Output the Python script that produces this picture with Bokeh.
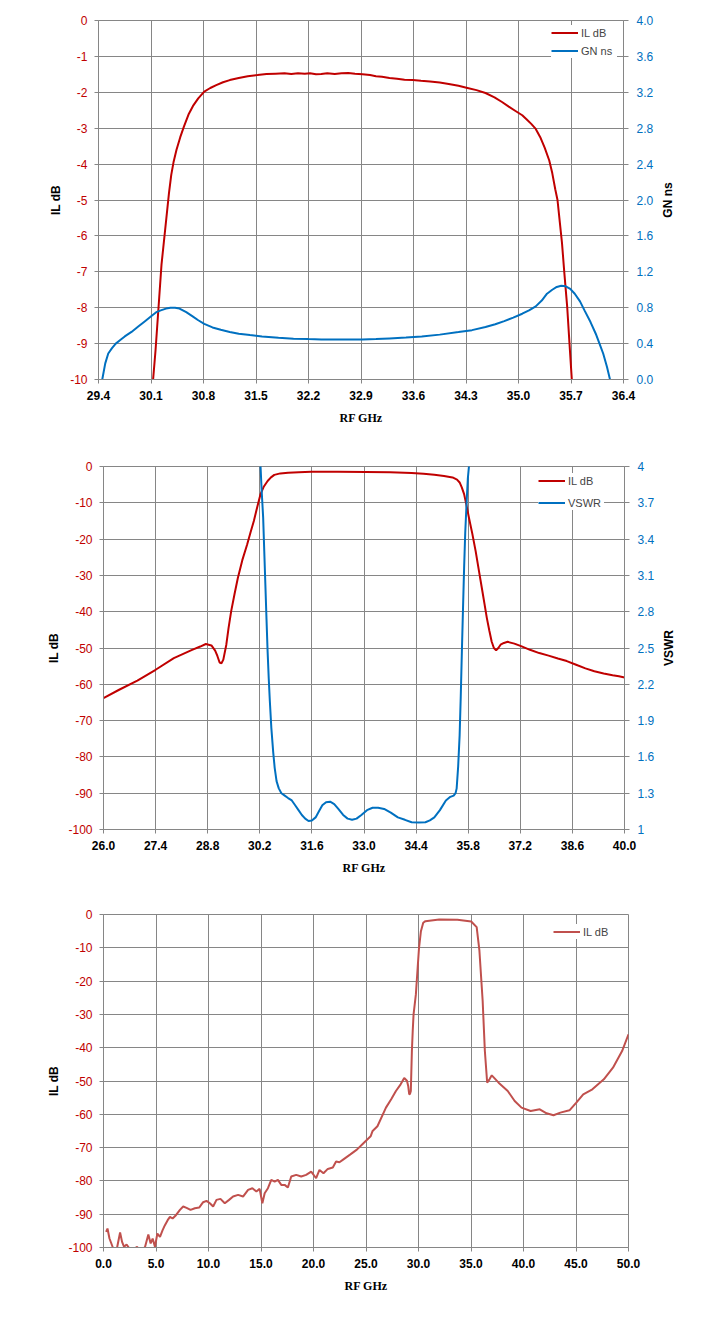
from math import pi
from bokeh.plotting import figure
from bokeh.models import (Range1d, LinearAxis, FixedTicker, NumeralTickFormatter,
                          Legend, LegendItem)
from bokeh.core.properties import value
from bokeh.layouts import column, row
from bokeh.embed import file_html
from bokeh.resources import INLINE

RED = "#C00000"
BLUE = "#0070C0"
RED3 = "#C0504D"
GRID = "#868686"

# ---- chart 1: passband IL dB + group delay (GN ns)
il1_f = [30.12, 30.16, 30.20, 30.24, 30.28, 30.31, 30.34, 30.37, 30.40, 30.44,
         30.49, 30.54, 30.60, 30.66, 30.73, 30.81, 30.89, 30.97, 31.06, 31.15,
         31.27, 31.39, 31.52, 31.64, 31.76, 31.88, 31.97, 32.06, 32.15, 32.22,
         32.30, 32.37, 32.45, 32.55, 32.64, 32.73, 32.82, 32.92, 33.02, 33.10,
         33.18, 33.28, 33.38, 33.48, 33.59, 33.70, 33.82, 33.95, 34.07, 34.20,
         34.32, 34.44, 34.56, 34.68, 34.78, 34.87, 34.96, 35.05, 35.11, 35.17,
         35.23, 35.29, 35.35, 35.41, 35.45, 35.49, 35.52, 35.55, 35.58, 35.61,
         35.65, 35.68, 35.72]
il1_db = [-10.2, -9.2, -8.0, -6.8, -6.0, -5.4, -4.8, -4.3, -3.95, -3.6,
          -3.25, -2.95, -2.62, -2.38, -2.17, -1.98, -1.88, -1.80, -1.72, -1.66,
          -1.60, -1.55, -1.52, -1.49, -1.48, -1.47, -1.49, -1.47, -1.48, -1.47,
          -1.50, -1.49, -1.47, -1.49, -1.47, -1.46, -1.48, -1.50, -1.52, -1.55,
          -1.57, -1.60, -1.62, -1.65, -1.66, -1.68, -1.70, -1.73, -1.77, -1.82,
          -1.88, -1.94, -2.02, -2.14, -2.27, -2.40, -2.52, -2.64, -2.76, -2.88,
          -3.02, -3.25, -3.55, -3.90, -4.25, -4.70, -5.00, -5.60, -6.20, -7.00,
          -8.00, -9.00, -10.3]
gn1_f = [29.45, 29.49, 29.53, 29.58, 29.63, 29.69, 29.75, 29.84, 29.93, 30.02,
         30.11, 30.17, 30.23, 30.30, 30.36, 30.42, 30.48, 30.57, 30.66, 30.73,
         30.81, 30.92, 31.03, 31.15, 31.27, 31.42, 31.58, 31.80, 32.00, 32.20,
         32.37, 32.65, 32.92, 33.10, 33.28, 33.50, 33.71, 33.95, 34.20, 34.38,
         34.56, 34.69, 34.81, 34.93, 35.05, 35.14, 35.23, 35.31, 35.38, 35.45,
         35.51, 35.57, 35.63, 35.69, 35.75, 35.82, 35.88, 35.96, 36.03, 36.08,
         36.13, 36.18, 36.22]
gn1_ns = [0.0, 0.18, 0.29, 0.35, 0.40, 0.44, 0.48, 0.53, 0.59, 0.65,
          0.71, 0.75, 0.77, 0.79, 0.80, 0.80, 0.79, 0.75, 0.70, 0.66,
          0.62, 0.58, 0.555, 0.53, 0.51, 0.495, 0.48, 0.465, 0.455, 0.45,
          0.447, 0.445, 0.447, 0.45, 0.458, 0.468, 0.48, 0.50, 0.528, 0.55,
          0.584, 0.615, 0.651, 0.69, 0.733, 0.77, 0.815, 0.88, 0.956, 1.0,
          1.031, 1.045, 1.038, 1.01, 0.956, 0.87, 0.77, 0.64, 0.51, 0.40,
          0.287, 0.14, 0.0]
x1_ticks = [29.4, 30.1, 30.8, 31.5, 32.2, 32.9, 33.6, 34.3, 35.0, 35.7, 36.4]
y1_ticks = [0, -1, -2, -3, -4, -5, -6, -7, -8, -9, -10]
gn1_ticks = [0.0, 0.4, 0.8, 1.2, 1.6, 2.0, 2.4, 2.8, 3.2, 3.6, 4.0]

# ---- chart 2: IL dB + VSWR, 26-40 GHz
il2_f = [26.0, 26.42, 26.91, 27.40, 27.89, 28.38, 28.60, 28.75, 28.90, 29.00,
         29.06, 29.12, 29.17, 29.22, 29.30, 29.36, 29.43, 29.52, 29.61, 29.73,
         29.86, 29.95, 30.04, 30.13, 30.22, 30.31, 30.41, 30.50, 30.59, 30.75,
         30.96, 31.25, 31.58, 32.30, 33.05, 33.70, 34.28, 34.60, 34.89, 35.15,
         35.38, 35.50, 35.57, 35.63, 35.69, 35.75, 35.82, 35.91, 36.00, 36.09,
         36.18, 36.24, 36.30, 36.37, 36.43, 36.49, 36.55, 36.61, 36.67, 36.76,
         36.86, 37.04, 37.22, 37.46, 37.71, 37.96, 38.21, 38.45, 38.70, 38.95,
         39.19, 39.44, 39.68, 39.85, 40.0]
il2_db = [-63.8, -61.5, -59.0, -56.0, -52.8, -50.5, -49.6, -48.9, -49.3, -50.7,
          -52.2, -54.0, -54.2, -53.2, -49.1, -44.5, -39.9, -35.2, -30.7, -25.8,
          -21.5, -18.2, -15.0, -11.2, -7.6, -5.5, -4.0, -3.0, -2.3, -1.9,
          -1.7, -1.55, -1.45, -1.45, -1.5, -1.6, -1.8, -2.0, -2.3, -2.6,
          -3.0, -3.6, -4.4, -5.8, -7.6, -10.5, -14.1, -18.5, -23.3, -28.8,
          -34.3, -38.0, -41.7, -45.3, -48.2, -50.0, -50.6, -50.0, -49.1, -48.6,
          -48.3, -48.8, -49.5, -50.5, -51.4, -52.1, -52.9, -53.6, -54.6, -55.6,
          -56.4, -57.0, -57.5, -57.8, -58.1]
vswr2_f = [30.19, 30.22, 30.25, 30.29, 30.32, 30.35, 30.38, 30.41, 30.44, 30.47,
           30.51, 30.56, 30.60, 30.65, 30.71, 30.78, 30.87, 30.96, 31.06, 31.15,
           31.24, 31.33, 31.42, 31.51, 31.60, 31.70, 31.79, 31.88, 31.98, 32.09,
           32.20, 32.31, 32.44, 32.56, 32.68, 32.80, 32.93, 33.08, 33.23, 33.38,
           33.54, 33.72, 33.91, 34.10, 34.28, 34.47, 34.65, 34.77, 34.89, 35.04,
           35.20, 35.32, 35.41, 35.46, 35.49, 35.53, 35.57, 35.60, 35.63, 35.66,
           35.69, 35.72, 35.76, 35.79, 35.82, 35.85]
vswr2 = [4.30, 4.00, 3.80, 3.58, 3.30, 3.02, 2.74, 2.47, 2.25, 2.06,
         1.84, 1.64, 1.51, 1.40, 1.34, 1.30, 1.28, 1.26, 1.24, 1.20,
         1.16, 1.12, 1.09, 1.07, 1.075, 1.10, 1.15, 1.20, 1.225, 1.23,
         1.21, 1.17, 1.12, 1.09, 1.08, 1.09, 1.12, 1.16, 1.18, 1.18,
         1.17, 1.14, 1.10, 1.08, 1.06, 1.057, 1.06, 1.075, 1.10, 1.16,
         1.24, 1.27, 1.28, 1.30, 1.34, 1.52, 1.78, 2.10, 2.47, 2.82,
         3.16, 3.45, 3.72, 3.90, 4.00, 4.30]
x2_ticks = [26.0, 27.4, 28.8, 30.2, 31.6, 33.0, 34.4, 35.8, 37.2, 38.6, 40.0]
y2_ticks = [0, -10, -20, -30, -40, -50, -60, -70, -80, -90, -100]
vswr2_ticks = [1, 1.3, 1.6, 1.9, 2.2, 2.5, 2.8, 3.1, 3.4, 3.7, 4]

# ---- chart 3: wideband IL dB, 0-50 GHz
il3_f = [0.25, 0.38, 0.57, 0.89, 1.20, 1.58, 1.77, 1.96, 2.20, 2.47,
         2.85, 3.16, 3.64, 3.96, 4.27, 4.49, 4.68, 4.90, 5.13, 5.38,
         5.63, 5.85, 6.11, 6.33, 6.58, 6.90, 7.28, 7.59, 7.91, 8.29,
         8.70, 9.11, 9.49, 9.81, 10.13, 10.44, 10.76, 11.14, 11.55, 11.96,
         12.34, 12.82, 13.29, 13.77, 14.18, 14.56, 14.87, 15.13, 15.35, 15.66,
         15.98, 16.30, 16.61, 16.93, 17.25, 17.56, 17.88, 18.35, 18.83, 19.30,
         19.78, 20.25, 20.57, 20.95, 21.36, 21.84, 22.15, 22.47, 22.82, 23.48,
         24.13, 24.78, 25.44, 25.63, 26.09, 26.90, 27.40, 27.85, 28.30, 28.64,
         28.90, 29.02, 29.11, 29.18, 29.27, 29.37, 29.45, 29.53, 29.75, 29.92,
         30.05, 30.23, 30.45, 30.66, 31.97, 33.71, 35.02, 35.54, 35.80, 36.11,
         36.32, 36.54, 36.76, 36.98, 37.63, 38.50, 39.16, 39.81, 40.68, 41.55,
         42.20, 42.86, 43.51, 44.38, 45.03, 45.69, 46.56, 47.65, 48.52, 49.39,
         50.0]
il3_db = [-95.3, -94.3, -97.3, -100.0, -101.5, -95.5, -98.3, -99.8, -99.1, -100.3,
          -101.0, -99.8, -101.0, -99.8, -96.1, -98.8, -97.3, -99.8, -95.8, -96.8,
          -94.8, -93.3, -91.8, -90.8, -91.3, -90.3, -88.7, -87.7, -88.1, -88.7,
          -88.2, -88.0, -86.4, -86.0, -86.7, -87.7, -85.7, -85.4, -86.7, -85.7,
          -84.7, -84.2, -84.7, -82.7, -82.2, -83.2, -82.4, -86.7, -83.7, -82.2,
          -79.7, -80.2, -79.7, -81.2, -81.2, -82.0, -78.7, -78.2, -78.7, -78.2,
          -77.2, -79.2, -76.7, -77.7, -76.4, -76.0, -74.2, -74.4, -73.6, -72.1,
          -70.6, -68.6, -66.6, -65.0, -63.6, -58.0, -55.5, -53.0, -51.0, -49.1,
          -49.9, -51.5, -53.9, -54.0, -53.0, -41.0, -35.0, -30.0, -24.0, -16.0,
          -10.0, -5.0, -2.5, -2.0, -1.5, -1.6, -2.1, -3.8, -10.8, -25.9,
          -41.0, -50.5, -49.5, -48.3, -50.5, -53.0, -56.0, -58.0, -59.0, -58.5,
          -59.7, -60.3, -59.5, -58.8, -56.5, -54.0, -52.5, -49.5, -46.0, -41.0,
          -36.0]
x3_ticks = [0.0, 5.0, 10.0, 15.0, 20.0, 25.0, 30.0, 35.0, 40.0, 45.0, 50.0]
y3_ticks = [0, -10, -20, -30, -40, -50, -60, -70, -80, -90, -100]


def style_axis(ax, color, bold=False):
    ax.axis_line_color = GRID
    ax.major_tick_line_color = GRID
    ax.major_tick_in = 0
    ax.major_tick_out = 4
    ax.minor_tick_line_color = None
    ax.major_label_text_color = color
    ax.major_label_text_font = "Liberation Sans"
    ax.major_label_text_font_size = "12px"
    ax.major_label_text_font_style = "bold" if bold else "normal"
    ax.major_label_standoff = 7
    ax.axis_label_text_font = "Liberation Sans"
    ax.axis_label_text_font_style = "bold"
    ax.axis_label_text_font_size = "12px"
    ax.axis_label_text_color = "black"


def base_fig(x_ticks, y_ticks, frame_w, frame_h, left, top, bottom, right):
    p = figure(frame_width=frame_w, frame_height=frame_h,
               x_range=Range1d(x_ticks[0], x_ticks[-1]),
               y_range=Range1d(y_ticks[-1], y_ticks[0]),
               output_backend="svg", toolbar_location=None,
               min_border_left=left, min_border_right=right,
               min_border_top=top, min_border_bottom=bottom,
               x_axis_label="RF GHz", y_axis_label="IL dB")
    p.outline_line_color = GRID
    p.background_fill_color = "white"
    p.border_fill_color = "white"
    p.xaxis.ticker = FixedTicker(ticks=x_ticks)
    p.yaxis.ticker = FixedTicker(ticks=y_ticks)
    p.xaxis.formatter = NumeralTickFormatter(format="0.0")
    p.yaxis.formatter = NumeralTickFormatter(format="0")
    style_axis(p.xaxis[0], "black", bold=True)
    style_axis(p.yaxis[0], RED)
    p.xaxis.axis_label_text_font = "Liberation Serif"
    p.xaxis.axis_label_standoff = 8
    p.yaxis.axis_label_standoff = 4
    for g in (p.xgrid, p.ygrid):
        g.grid_line_color = GRID
        g.grid_line_width = 1
    return p


def add_legend(p, items, loc, spacing):
    leg = Legend(items=items, location=loc, padding=6, spacing=spacing,
                 margin=0, glyph_width=27, glyph_height=15, label_height=15,
                 label_width=36, label_standoff=3,
                 label_text_font="Liberation Sans", label_text_font_size="11px",
                 border_line_color=None, background_fill_color="white",
                 background_fill_alpha=1.0)
    p.add_layout(leg)


def right_axis(p, name, rng, ticks, fmt):
    p.extra_y_ranges = {name: rng}
    ax = LinearAxis(y_range_name=name, ticker=FixedTicker(ticks=ticks),
                    formatter=NumeralTickFormatter(format=fmt))
    style_axis(ax, BLUE)
    ax.major_tick_out = 5
    ax.major_label_standoff = 8
    p.add_layout(ax, "right")


def side_title(text, frame_h, top, bottom):
    # narrow strip holding the right-hand axis title, read bottom-to-top
    s = figure(frame_width=20, frame_height=frame_h, x_range=Range1d(0, 1),
               y_range=Range1d(0, 1), output_backend="svg", toolbar_location=None,
               min_border_left=1, min_border_right=0,
               min_border_top=top, min_border_bottom=bottom)
    s.axis.visible = False
    s.grid.visible = False
    s.outline_line_color = None
    s.border_fill_color = "white"
    s.text(x=[0.5], y=[0.5], text=[text], angle=pi / 2, text_align="center",
           text_baseline="middle", text_font=value("Liberation Sans"),
           text_font_style="bold", text_font_size="12px", text_color="black")
    return s


# chart 1
p1 = base_fig(x1_ticks, y1_ticks, 525, 359, 98, 20, 55, 30)
right_axis(p1, "gn", Range1d(gn1_ticks[0], gn1_ticks[-1]), gn1_ticks, "0.0")
r1a = p1.line(il1_f, il1_db, line_color=RED, line_width=2)
r1b = p1.line(gn1_f, gn1_ns, line_color=BLUE, line_width=2, y_range_name="gn")
add_legend(p1, [LegendItem(label="IL dB", renderers=[r1a]),
                LegendItem(label="GN ns", renderers=[r1b])], (453, 321), 3)
t1 = side_title("GN ns", 359, 20, 55)

# chart 2
p2 = base_fig(x2_ticks, y2_ticks, 521, 363, 103, 32, 55, 30)
right_axis(p2, "vswr", Range1d(vswr2_ticks[0], vswr2_ticks[-1]), vswr2_ticks, "0.[0]")
r2a = p2.line(il2_f, il2_db, line_color=RED, line_width=2)
r2b = p2.line(vswr2_f, vswr2, line_color=BLUE, line_width=2, y_range_name="vswr")
add_legend(p2, [LegendItem(label="IL dB", renderers=[r2a]),
                LegendItem(label="VSWR", renderers=[r2b])], (435, 319), 7)
t2 = side_title("VSWR", 363, 32, 55)

# chart 3
p3 = base_fig(x3_ticks, y3_ticks, 525, 333, 103, 30, 60, 70)
r3 = p3.line(il3_f, il3_db, line_color=RED3, line_width=2)
add_legend(p3, [LegendItem(label="IL dB", renderers=[r3])], (450, 308), 4)

layout = column(row(p1, t1, spacing=0), row(p2, t2, spacing=0), row(p3), spacing=0)
open("out.html", "w").write(file_html(layout, INLINE))
